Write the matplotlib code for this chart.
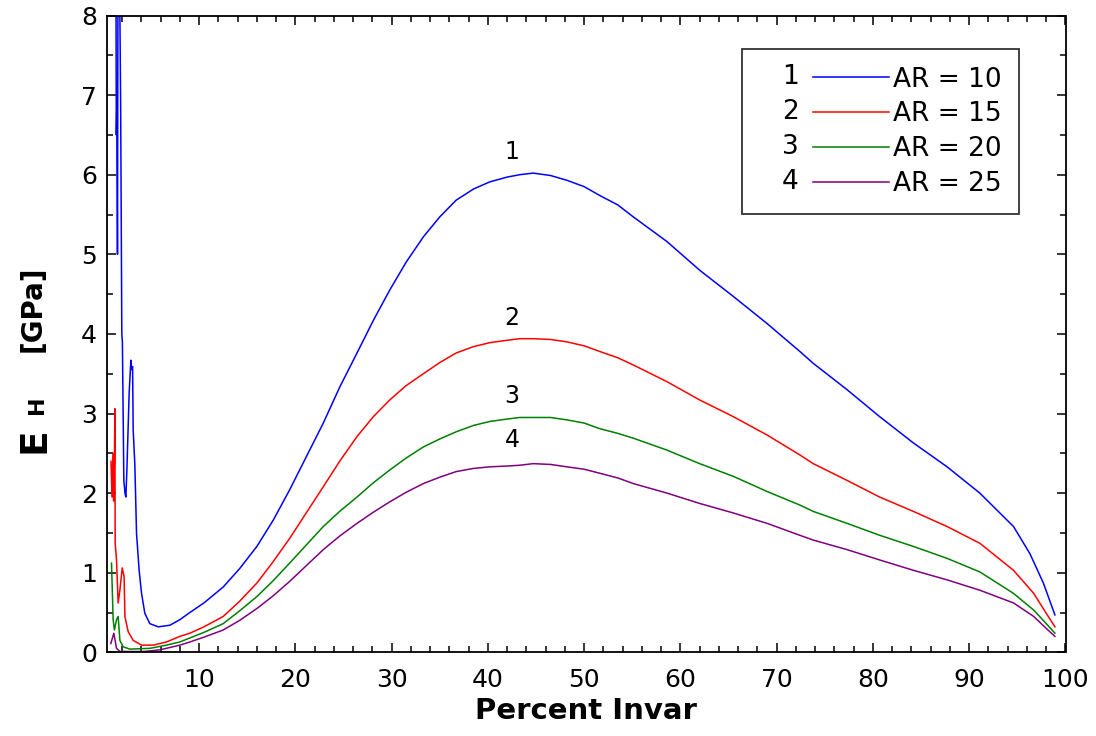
import matplotlib
matplotlib.use("Agg")
import matplotlib.pyplot as plt
from matplotlib.ticker import MultipleLocator
from matplotlib.legend_handler import HandlerBase
from matplotlib.lines import Line2D
from matplotlib.text import Text

# curve 1, AR = 10
x1 = [1.35, 1.40, 1.45, 1.52, 1.58, 1.70, 1.85, 1.97, 2.03, 2.18, 2.30, 2.39, 2.50, 2.73, 2.91,
      3.00, 3.09, 3.15, 3.32, 3.50, 3.77, 4.02, 4.36, 4.88, 5.75, 6.96, 8.0, 9.04, 10.5, 12.5,
      14.2, 16.0, 17.7, 19.4, 22.9, 24.6, 26.4, 28.1, 29.8, 31.5, 33.3, 35.0, 36.7, 38.5, 40.2,
      42.0, 43.3, 44.7, 46.5, 48.2, 50.0, 51.6, 53.5, 55.1, 58.6, 62.0, 65.5,
      69.0, 72.4, 73.8, 77.3, 80.7, 84.2, 87.7, 91.1, 94.6, 96.3, 97.7, 98.9]
y1 = [9.0, 6.5, 6.85, 5.0, 9.0, 9.0, 6.87, 4.0, 3.9, 2.16, 2.0, 1.95, 2.3, 3.25, 3.67,
      3.55, 3.59, 2.79, 2.37, 1.49, 1.03, 0.74, 0.49, 0.36, 0.32, 0.34, 0.41, 0.50, 0.62, 0.82,
      1.05, 1.33, 1.66, 2.04, 2.88, 3.33, 3.76, 4.17, 4.55, 4.90, 5.22, 5.47, 5.68, 5.82, 5.91,
      5.97, 6.0, 6.02, 5.99, 5.93, 5.85, 5.74, 5.62, 5.47, 5.16, 4.80, 4.47,
      4.13, 3.78, 3.63, 3.30, 2.96, 2.63, 2.33, 2.0, 1.58, 1.24, 0.87, 0.47]

# curve 2, AR = 15
x2 = [0.85, 0.95, 1.05, 1.12, 1.2, 1.25, 1.28, 1.42, 1.59, 1.77, 2.01, 2.21, 2.29, 2.63, 3.15,
      4.02, 5.23, 6.62, 8.0, 9.04, 10.5, 12.5, 14.2, 16.0, 17.7, 19.4, 22.9, 24.6, 26.4, 28.1,
      29.8, 31.5, 33.3, 35.0, 36.7, 38.5, 40.2, 42.0, 43.3, 44.7, 46.5, 48.2, 50.0, 51.6, 53.5,
      55.1, 58.6, 62.0, 65.5, 69.0, 72.4, 73.8, 77.3, 80.7, 84.2, 87.7, 91.1,
      94.6, 96.7, 98.0, 98.9]
y2 = [2.4, 1.95, 2.5, 1.9, 2.4, 3.06, 1.37, 1.16, 0.62, 0.78, 1.06, 0.95, 0.45, 0.26, 0.15,
      0.09, 0.09, 0.13, 0.20, 0.24, 0.32, 0.45, 0.64, 0.87, 1.14, 1.43, 2.08, 2.40, 2.71, 2.96,
      3.17, 3.35, 3.50, 3.64, 3.76, 3.84, 3.89, 3.92, 3.94, 3.94, 3.93, 3.90, 3.85, 3.78, 3.70,
      3.61, 3.40, 3.17, 2.96, 2.73, 2.48, 2.37, 2.16, 1.95, 1.77, 1.58, 1.37,
      1.03, 0.74, 0.49, 0.32]

# curve 3, AR = 20
x3 = [0.9, 1.07, 1.2, 1.42, 1.59, 1.77, 2.1, 2.8, 4.9, 6.6, 8.0, 9.04, 10.5, 12.5, 14.2,
      16.0, 17.7, 19.4, 22.9, 24.6, 26.4, 28.1, 29.8, 31.5, 33.3, 35.0, 36.7, 38.5, 40.2, 42.0,
      43.3, 44.7, 46.5, 48.2, 50.0, 51.6, 53.5, 55.1, 58.6, 62.0, 65.5, 69.0,
      72.4, 73.8, 77.3, 80.7, 84.2, 87.7, 91.1, 94.6, 96.7, 98.0, 98.9]
y3 = [1.12, 0.41, 0.28, 0.41, 0.45, 0.15, 0.07, 0.04, 0.05, 0.09, 0.13, 0.18, 0.25, 0.36, 0.52,
      0.70, 0.90, 1.12, 1.58, 1.77, 1.95, 2.13, 2.29, 2.44, 2.58, 2.68, 2.77, 2.85, 2.90, 2.93,
      2.95, 2.95, 2.95, 2.92, 2.88, 2.81, 2.75, 2.69, 2.54, 2.37, 2.21, 2.02,
      1.85, 1.77, 1.62, 1.47, 1.33, 1.18, 1.01, 0.74, 0.53, 0.36, 0.24]

# curve 4, AR = 25
x4 = [0.83, 1.14, 1.42, 1.77, 4.2, 5.9, 8.0, 9.04, 10.5, 12.5, 14.2, 16.0, 17.7, 19.4, 22.9,
      24.6, 26.4, 28.1, 29.8, 31.5, 33.3, 35.0, 36.7, 38.5, 40.2, 42.0, 43.3, 44.7, 46.5, 48.2,
      50.0, 51.6, 53.5, 55.1, 58.6, 62.0, 65.5, 69.0, 72.4, 73.8, 77.3, 80.7,
      84.2, 87.7, 91.1, 94.6, 96.7, 98.0, 98.9]
y4 = [0.11, 0.24, 0.05, 0.01, 0.01, 0.03, 0.09, 0.13, 0.19, 0.28, 0.40, 0.55, 0.71, 0.89, 1.29,
      1.46, 1.62, 1.76, 1.89, 2.01, 2.12, 2.20, 2.27, 2.31, 2.33, 2.34, 2.35, 2.37, 2.36, 2.33,
      2.30, 2.25, 2.19, 2.12, 2.0, 1.87, 1.75, 1.62, 1.47, 1.41, 1.29, 1.16,
      1.03, 0.91, 0.78, 0.62, 0.45, 0.30, 0.20]

labels = ["AR = 10", "AR = 15", "AR = 20", "AR = 25"]
numbers = ["1", "2", "3", "4"]
colors = ["#0000ff", "#ff0000", "#008000", "#800080"]
# where the curve numbers sit (x, y)
num_x = [42.5, 42.5, 42.5, 42.5]
num_y = [6.28, 4.2, 3.22, 2.67]


class NumberedLine(HandlerBase):
    # legend entry drawn as "n ——"
    def __init__(self, num):
        super().__init__()
        self.num = num

    def create_artists(self, legend, orig_handle, xdescent, ydescent, width, height, fontsize, trans):
        y = height / 2 - ydescent
        t = Text(-xdescent + 0.17 * width, y, self.num, ha="left", va="center",
                 fontsize=fontsize, transform=trans)
        ln = Line2D([-xdescent + 0.41 * width, -xdescent + width], [y, y],
                    color=orig_handle.get_color(), lw=orig_handle.get_linewidth(), transform=trans)
        return [t, ln]


W, H = 1096, 736
fig = plt.figure(figsize=(W / 100, H / 100), dpi=100)
ax = fig.add_axes([106.7 / W, 1 - 652.3 / H, (1065.5 - 106.7) / W, (652.3 - 15.5) / H])

xs = [x1, x2, x3, x4]
ys = [y1, y2, y3, y4]
lines = []
for xv, yv, c in zip(xs, ys, colors):
    ln, = ax.plot(xv, yv, color=c, lw=1.1)
    lines.append(ln)

for n, nx, ny in zip(numbers, num_x, num_y):
    ax.text(nx, ny, n, ha="center", va="center", fontsize=17)

ax.set_xlim(0.4, 100)
ax.set_ylim(0, 8)
ax.set_xticks(range(10, 101, 10))
ax.set_yticks(range(0, 9))
ax.xaxis.set_minor_locator(MultipleLocator(2))
ax.yaxis.set_minor_locator(MultipleLocator(0.5))
ax.tick_params(which="both", direction="in", top=True, right=True, width=1.1, labelsize=18)
ax.tick_params(which="major", length=6.5)
ax.tick_params(which="minor", length=4)
ax.tick_params(axis="y", pad=7)
ax.tick_params(axis="x", pad=11)
for s in ax.spines.values():
    s.set_linewidth(1.3)

ax.set_xlabel("Percent Invar", fontsize=21, fontweight="bold", labelpad=4)

# y label: E with small H and [GPa]
fig.text(45 / W, 1 - 453 / H, "E", rotation=90, rotation_mode="anchor", ha="left",
         va="baseline", fontsize=27, fontweight="bold")
fig.text(43 / W, 1 - 414 / H, "H", rotation=90, rotation_mode="anchor", ha="left",
         va="baseline", fontsize=16, fontweight="bold")
fig.text(41 / W, 1 - 352 / H, "[GPa]", rotation=90, rotation_mode="anchor", ha="left",
         va="baseline", fontsize=20, fontweight="bold")

leg = ax.legend(lines, labels, loc="upper right", bbox_to_anchor=(0.9515, 0.947),
                handler_map={ln: NumberedLine(n) for ln, n in zip(lines, numbers)},
                handlelength=4.9, handletextpad=0.15, labelspacing=0.33, borderpad=0.66,
                borderaxespad=0, fontsize=19, fancybox=False, framealpha=1,
                edgecolor="#333333")
leg.get_frame().set_linewidth(1.3)

fig.savefig("out.png", dpi=100)
